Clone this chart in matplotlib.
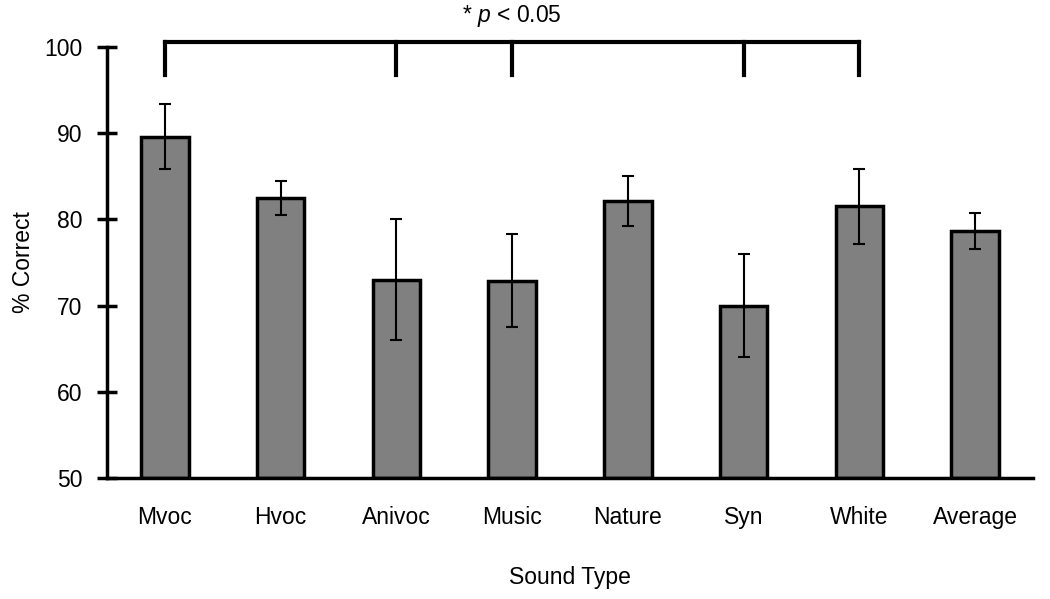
import matplotlib
matplotlib.use("Agg")
import matplotlib.pyplot as plt

categories = ["Mvoc", "Hvoc", "Anivoc", "Music", "Nature", "Syn", "White", "Average"]
values = [89.6, 82.5, 73.0, 72.9, 82.1, 70.0, 81.5, 78.7]
errors = [3.8, 2.0, 7.0, 5.4, 2.9, 6.0, 4.4, 2.1]
sig_groups = ["Mvoc", "Anivoc", "Music", "Syn", "White"]
sig_text = "* $\\it{p}$ < 0.05"

plt.rcParams['font.family'] = ['Liberation Sans', 'DejaVu Sans']
plt.rcParams['mathtext.fontset'] = 'custom'
plt.rcParams['mathtext.it'] = 'Liberation Sans:italic'

FS = 16.5

fig = plt.figure(figsize=(10.5, 5.99), dpi=100)
ax = fig.add_axes([107/1050, 1-478/599, (1033-107)/1050, (478-47)/599])

x = list(range(len(categories)))
ax.bar(x, [v - 50 for v in values], bottom=50, width=0.41, color="#808080",
       edgecolor="black", linewidth=2.5, zorder=2)
ax.errorbar(x, values, yerr=errors, fmt="none", ecolor="black", elinewidth=1.5,
            capsize=4, capthick=1.5, zorder=3)

ax.set_xlim(-0.5, len(categories) - 0.5)
ax.set_ylim(50, 100)
ax.set_yticks([50, 60, 70, 80, 90, 100])
ax.set_xticks(x)
ax.set_xticklabels(categories, fontsize=FS)
ax.tick_params(axis="y", direction="inout", length=15, width=2.5, labelsize=FS, pad=10)
ax.tick_params(axis="x", length=0, pad=20)
for s in ["top", "right"]:
    ax.spines[s].set_visible(False)
ax.spines["left"].set_linewidth(2.5)
ax.spines["bottom"].set_linewidth(2.5)

ax.set_ylabel("% Correct", fontsize=FS, labelpad=7)
ax.set_xlabel("Sound Type", fontsize=FS, labelpad=27)

# significance bracket
idx = [categories.index(g) for g in sig_groups]
ytop, ylow = 100.6, 96.8
ax.plot([idx[0], idx[-1]], [ytop, ytop], color="black", lw=3, clip_on=False,
        solid_capstyle="projecting", zorder=4)
for i in idx:
    ax.plot([i, i], [ytop, ylow], color="black", lw=3, clip_on=False, zorder=4)
ax.text(idx[2], 103.6, sig_text, ha="center", va="center", fontsize=FS)

fig.savefig("out.png", dpi=100)
